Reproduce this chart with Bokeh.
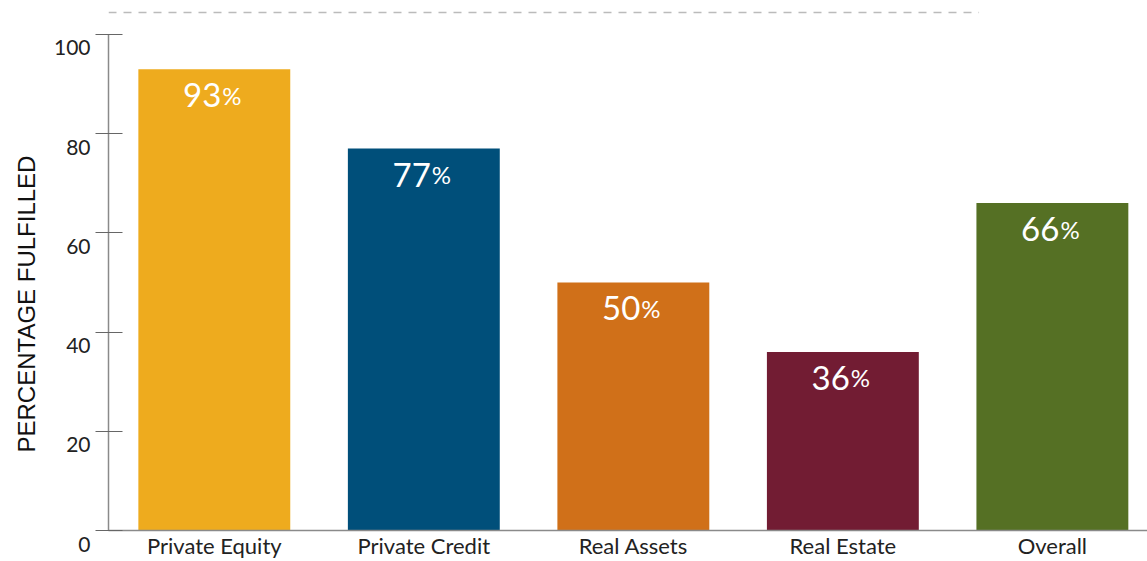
from bokeh.plotting import figure
from bokeh.models import Range1d, FixedTicker, ColumnDataSource, Title
from bokeh.core.properties import value
from bokeh.embed import file_html
from bokeh.resources import INLINE

categories = ["Private Equity", "Private Credit", "Real Assets", "Real Estate", "Overall"]
values = [93, 77, 50, 36, 66]
colors = ["#EEAB1E", "#004F7A", "#D07019", "#721C33", "#557024"]
y_ticks = [0, 20, 40, 60, 80, 100]
y_title = "PERCENTAGE  FULFILLED"

FONT = "Lato"
xs = list(range(len(categories)))

src = ColumnDataSource(dict(
    x=xs, top=values, color=colors,
    num=[str(v) for v in values], pct=["%"] * len(values),
))

p = figure(width=1147, height=561, output_backend="svg", toolbar_location=None,
           x_range=Range1d(-0.505, 4.454), y_range=Range1d(0, 106.84),
           min_border_left=108, min_border_right=0, min_border_top=0, min_border_bottom=30)
p.outline_line_color = None
p.xgrid.visible = False
p.ygrid.visible = False
p.background_fill_color = "white"
p.border_fill_color = "white"

p.vbar(x="x", top="top", width=0.725, bottom=0, fill_color="color", line_color=None, source=src)

p.text(x="x", y="top", text="num", source=src, x_offset=7, y_offset=26,
       text_align="right", text_baseline="alphabetic", text_color="white",
       text_font=value(FONT), text_font_size="33px")
p.text(x="x", y="top", text="pct", source=src, x_offset=8, y_offset=26,
       text_align="left", text_baseline="alphabetic", text_color="white",
       text_font=value(FONT), text_font_size="24px")

# decorative dashed line at top
p.segment(x0=[-0.505], y0=[104.4], x1=[3.65], y1=[104.4], line_color="#bbbbbb",
          line_width=1.5, line_dash="8 7")

# y axis
ya = p.yaxis[0]
ya.ticker = FixedTicker(ticks=y_ticks)
ya.major_label_overrides = {t: "\n" + str(t) for t in y_ticks}
ya.bounds = (0, 100)
ya.axis_line_color = "#8a8a8a"
ya.axis_line_width = 1.5
ya.major_tick_line_color = "#666666"
ya.major_tick_line_width = 1.2
ya.major_tick_in = 14
ya.major_tick_out = 13
ya.minor_tick_line_color = None
ya.major_label_text_font = FONT
ya.major_label_text_font_size = "21px"
ya.major_label_text_line_height = 1.0
ya.major_label_text_color = "#222222"
ya.major_label_standoff = 5

p.add_layout(Title(text=y_title, align="left", offset=78, standoff=21,
                   text_font="Liberation Sans", text_font_size="24px",
                   text_font_style="normal", text_color="#111111"), "left")

# x axis
xa = p.xaxis[0]
xa.ticker = FixedTicker(ticks=xs)
xa.major_label_overrides = {i: c for i, c in enumerate(categories)}
xa.axis_line_color = "#8a8a8a"
xa.axis_line_width = 1.5
xa.major_tick_line_color = None
xa.major_tick_in = 0
xa.major_tick_out = 0
xa.minor_tick_line_color = None
xa.major_label_text_font = FONT
xa.major_label_text_font_size = "22px"
xa.major_label_text_color = "#222222"
xa.major_label_standoff = 1

open("out.html", "w").write(file_html(p, INLINE))
